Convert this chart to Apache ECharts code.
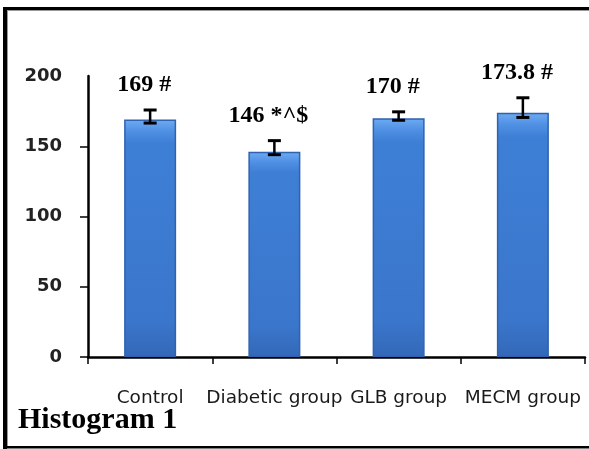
<!DOCTYPE html>
<html>
<head>
<meta charset="utf-8">
<script src="https://cdn.jsdelivr.net/npm/echarts@6/dist/echarts.min.js"></script>
<style>
html,body{margin:0;padding:0;background:#fff;}
#chart{width:589px;height:449px;}
</style>
</head>
<body>
<div id="chart"></div>
<script>
const categories = ['Control', 'Diabetic group', 'GLB group', 'MECM group'];
const means = [169, 146, 170, 173.8];
const errLow = [166.5, 144, 168.5, 170.5];
const errHigh = [175.8, 154, 174.5, 184.5];
const barLabels = ['169 #', '146 *^$', '170 #', '173.8 #'];
const yTickValues = [0, 50, 100, 150];
const title = 'Histogram 1';

const chart = echarts.init(document.getElementById('chart'), null, {renderer: 'canvas'});

const errData = categories.map((c, i) => [i, errLow[i], errHigh[i]]);

const option = {
  backgroundColor: '#fff',
  animation: false,
  grid: {left: 88, right: 4, top: 76, bottom: 92, containLabel: false},
  xAxis: {
    type: 'category',
    data: categories,
    axisLine: {lineStyle: {color: '#000', width: 2.5}},
    axisTick: {show: true, length: 7, lineStyle: {color: '#000', width: 1.5}},
    axisLabel: {
      interval: 0, margin: 32, color: '#1a1a1a',
      fontFamily: 'DejaVu Sans', fontSize: 18.5
    },
    splitLine: {show: false}
  },
  yAxis: {
    type: 'value', min: 0, max: 200, interval: 50,
    axisLine: {show: true, lineStyle: {color: '#000', width: 2.5}},
    axisTick: {show: true, length: 8, customValues: yTickValues, lineStyle: {color: '#000', width: 1.5}},
    axisLabel: {margin: 26, color: '#222', fontFamily: 'DejaVu Sans', fontWeight: 'bold', fontSize: 18},
    splitLine: {show: false}
  },
  series: [
    {
      type: 'bar',
      data: means,
      barWidth: 52,
      itemStyle: {
        borderColor: '#2f62b0',
        borderWidth: 1.5,
        color: {
          type: 'linear', x: 0, y: 0, x2: 0, y2: 1,
          colorStops: [
            {offset: 0, color: '#6fabf2'},
            {offset: 0.05, color: '#4f90e4'},
            {offset: 0.1, color: '#3e7fd6'},
            {offset: 0.85, color: '#3a76cb'},
            {offset: 1, color: '#3468b8'}
          ]
        }
      }
    },
    {
      type: 'custom',
      data: errData,
      z: 5,
      renderItem: function (params, api) {
        const idx = api.value(0);
        const lo = api.coord([idx, api.value(1)]);
        const hi = api.coord([idx, api.value(2)]);
        const half = 6.5;
        const ls = {stroke: '#000', lineWidth: 2.5};
        return {
          type: 'group',
          children: [
            {type: 'line', shape: {x1: hi[0], y1: hi[1], x2: lo[0], y2: lo[1]}, style: ls},
            {type: 'line', shape: {x1: hi[0] - half, y1: hi[1], x2: hi[0] + half, y2: hi[1]}, style: {stroke: '#000', lineWidth: 3}},
            {type: 'line', shape: {x1: lo[0] - half, y1: lo[1], x2: lo[0] + half, y2: lo[1]}, style: {stroke: '#000', lineWidth: 3}},
            {
              type: 'text',
              style: {
                text: barLabels[params.dataIndex],
                x: hi[0] - 6, y: hi[1] - 13,
                textAlign: 'center', textVerticalAlign: 'bottom',
                font: 'bold 24px "Liberation Serif"', fill: '#000'
              }
            }
          ]
        };
      }
    }
  ],
  graphic: [
    {type: 'rect', shape: {x: 3, y: 7, width: 586, height: 3}, style: {fill: '#000'}},
    {type: 'rect', shape: {x: 7, y: 10, width: 582, height: 1}, style: {fill: '#999'}},
    {type: 'rect', shape: {x: 3, y: 7, width: 4, height: 442}, style: {fill: '#000'}},
    {type: 'rect', shape: {x: 7, y: 10, width: 1, height: 436}, style: {fill: '#999'}},
    {type: 'rect', shape: {x: 3, y: 446, width: 586, height: 2.5}, style: {fill: '#000'}},
    {
      type: 'text', left: 18, top: 405,
      style: {text: title, font: 'bold 30px "Liberation Serif"', fill: '#000'}
    }
  ]
};
chart.setOption(option);
</script>
</body>
</html>
